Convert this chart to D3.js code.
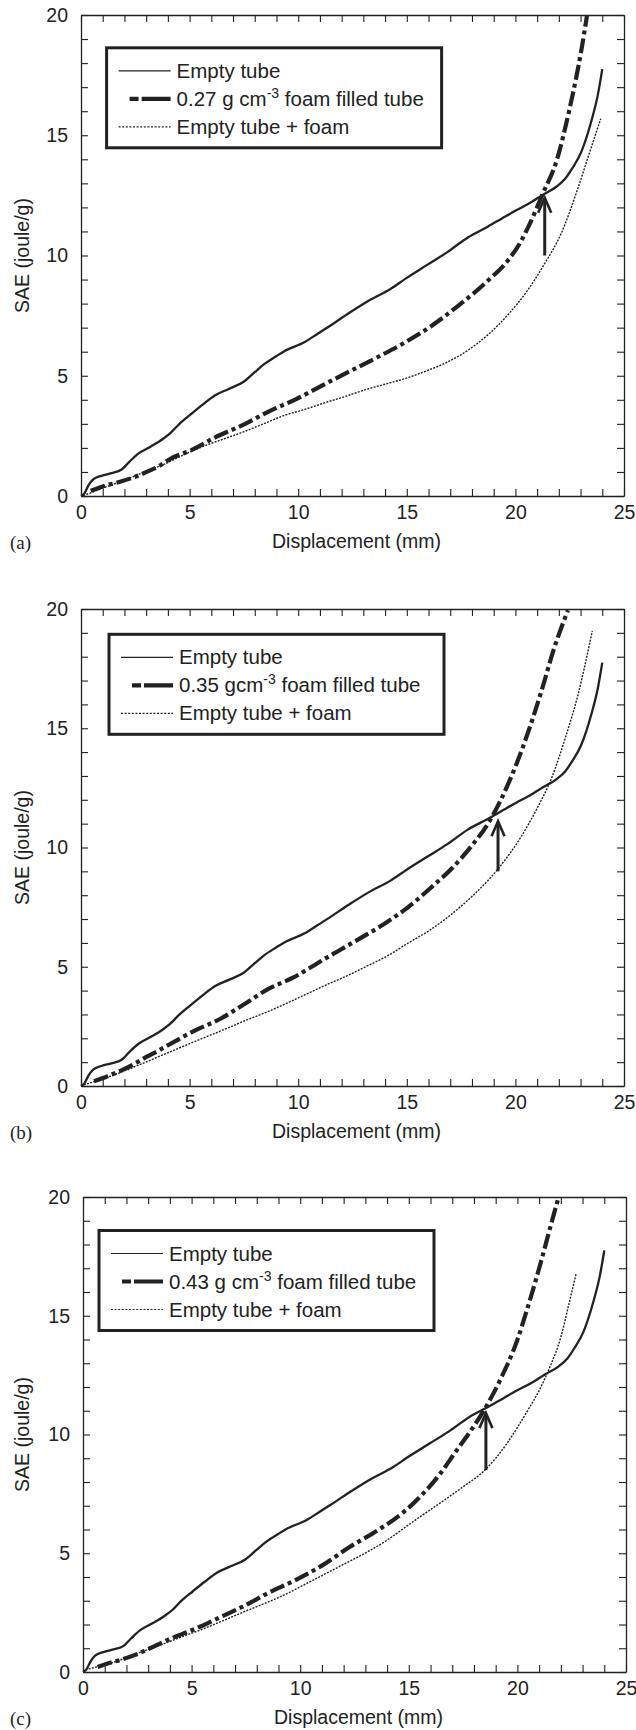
<!DOCTYPE html>
<html><head><meta charset="utf-8">
<script src="https://cdn.jsdelivr.net/npm/d3@7"></script>
<style>
html,body{margin:0;padding:0;background:#fff;}
text{font-family:"Liberation Sans",Arial,Helvetica,sans-serif;fill:#222;}
</style></head>
<body>
<svg id="chart" width="636" height="1730"></svg>
<script>
// ---------- data ----------
const xTickLabels = [0, 5, 10, 15, 20, 25];
const yTickLabels = [0, 5, 10, 15, 20];
const panelLetters = ["(a)", "(b)", "(c)"];
const xTitle = "Displacement (mm)";
const yTitle = "SAE (joule/g)";
const legendEmpty = "Empty tube";
const legendSum = "Empty tube + foam";
const legendFoamPre = ["0.27 g cm", "0.35 gcm", "0.43 g cm"];
const legendFoamSup = "-3";
const legendFoamPost = " foam filled tube";

const emptyTube = [[0,0],[0.15,0.1],[0.35,0.45],[0.56,0.69],[0.94,0.84],[1.4,0.95],[1.87,1.1],[2.2,1.4],[2.62,1.75],[3.2,2.05],[3.75,2.36],[4.1,2.6],[4.5,2.97],[5.06,3.4],[5.6,3.8],[6.18,4.19],[6.8,4.45],[7.49,4.75],[8.0,5.15],[8.43,5.48],[9.0,5.82],[9.36,6.02],[10.3,6.4],[10.9,6.75],[11.42,7.05],[12.36,7.62],[13.3,8.15],[14.23,8.6],[14.98,9.06],[15.92,9.6],[16.85,10.13],[17.79,10.74],[18.73,11.2],[19.4,11.55],[20.04,11.88],[20.7,12.2],[21.25,12.52],[21.9,12.87],[22.3,13.2],[22.6,13.6],[23.03,14.3],[23.5,15.6],[23.8,16.7],[24.0,17.75]];

const foam027 = [[0.45,0.22],[1.0,0.4],[1.87,0.61],[2.5,0.8],[3.0,0.99],[3.6,1.25],[4.12,1.55],[5.06,1.9],[6.18,2.44],[7.49,2.97],[8.61,3.5],[9.93,4.04],[11.05,4.57],[12.36,5.18],[13.67,5.78],[14.79,6.32],[16.1,7.05],[17.42,7.95],[18.73,8.95],[19.66,9.8],[20.2,10.5],[20.6,11.2],[21.25,12.55],[21.9,13.95],[22.47,16.0],[22.8,17.4],[23.03,18.5],[23.3,20.0]];
const sum027 = [[0.1,0.02],[0.5,0.15],[1.0,0.33],[1.87,0.61],[2.8,0.95],[3.75,1.29],[4.7,1.7],[5.62,2.06],[6.5,2.35],[7.49,2.67],[8.4,3.0],[9.36,3.35],[10.3,3.6],[11.24,3.88],[12.2,4.15],[13.1,4.42],[14.0,4.65],[14.98,4.9],[15.9,5.2],[16.85,5.56],[17.8,6.05],[18.73,6.7],[19.66,7.54],[20.6,8.6],[21.35,9.67],[22.1,10.9],[22.85,12.72],[23.4,14.24],[23.93,15.69]];

const foam035 = [[0.6,0.2],[1.2,0.4],[1.91,0.68],[2.5,0.95],[3.03,1.23],[3.6,1.5],[4.16,1.79],[5.28,2.34],[6.4,2.81],[7.53,3.44],[8.65,4.08],[9.78,4.55],[11.09,5.26],[12.58,6.05],[13.9,6.76],[15.02,7.47],[16.14,8.34],[17.08,9.13],[18.01,10.1],[18.76,11.03],[19.33,12.0],[20.07,13.55],[20.64,14.98],[21.2,16.56],[21.76,18.29],[22.42,19.95]];
const sum035 = [[0.13,0.05],[1.0,0.3],[1.91,0.6],[2.85,0.95],[3.78,1.31],[4.7,1.66],[5.66,2.02],[6.6,2.37],[7.53,2.73],[8.5,3.08],[9.4,3.44],[10.3,3.82],[11.27,4.23],[12.2,4.6],[13.15,5.02],[14.1,5.45],[15.02,5.97],[16.0,6.5],[16.89,7.08],[17.6,7.62],[18.2,8.12],[18.8,8.68],[19.33,9.25],[20.26,10.45],[21.01,11.66],[21.67,12.92],[22.32,14.66],[22.88,16.4],[23.54,19.08]];

const foam043 = [[0.67,0.21],[1.2,0.38],[1.8,0.53],[2.4,0.72],[2.92,0.93],[4.05,1.41],[5.17,1.82],[6.3,2.3],[7.42,2.78],[8.55,3.34],[9.67,3.82],[10.98,4.47],[12.29,5.27],[13.61,5.99],[14.73,6.71],[15.67,7.52],[16.42,8.32],[17.17,9.29],[17.92,10.25],[18.48,11.05],[19.23,12.34],[19.98,13.94],[20.54,15.55],[21.1,17.32],[21.57,18.92],[21.89,19.97]];
const sum043 = [[0.11,0.1],[1.0,0.3],[1.8,0.53],[2.7,0.85],[3.67,1.17],[4.6,1.5],[5.55,1.82],[6.5,2.18],[7.42,2.54],[8.4,2.9],[9.3,3.26],[10.2,3.68],[11.17,4.14],[12.1,4.58],[13.04,5.03],[14.0,5.55],[14.92,6.15],[15.7,6.65],[16.42,7.1],[17.5,7.8],[18.48,8.48],[19.0,9.0],[19.5,9.6],[20.0,10.3],[20.5,11.05],[21.0,11.85],[21.5,12.85],[22.0,14.1],[22.4,15.6],[22.7,16.75]];

// arrows: [x, yFrom, yTo] in data units
const arrowData = [[21.35, 10.0, 12.4], [19.2, 9.0, 11.1], [18.55, 8.5, 10.9]];

const foamSeries = [foam027, foam035, foam043];
const sumSeries = [sum027, sum035, sum043];

// ---------- layout ----------
const panels = [
  {left: 81, top: 15, h: 481, legX: 106.6, legY: 47.8},
  {left: 81, top: 609, h: 477, legX: 109, legY: 634.3},
  {left: 83, top: 1197, h: 475, legX: 99, legY: 1230.5}
];
const W = 543;
const ink = "#222";

const svg = d3.select("#chart");

panels.forEach((p, i) => {
  const H = p.h;
  const g = svg.append("g").attr("transform", `translate(${p.left},${p.top})`);
  const x = d3.scaleLinear().domain([0, 25]).range([0, W]);
  const y = d3.scaleLinear().domain([0, 20]).range([H, 0]);
  const fmtX = d => (xTickLabels.includes(d) ? d : "");
  const fmtY = d => (yTickLabels.includes(d) ? d : "");

  const styleAxis = sel => {
    sel.selectAll("path.domain").attr("stroke", ink).attr("stroke-width", 1.3);
    sel.selectAll(".tick line").attr("stroke", ink).attr("stroke-width", 1.1);
    sel.selectAll(".tick text").style("font-size", "19.5px").attr("fill", ink)
      .style("font-family", '"Liberation Sans",Arial,sans-serif');
  };

  g.append("g").attr("transform", `translate(0,${H})`)
    .call(d3.axisBottom(x).tickValues(d3.range(0, 26)).tickSizeInner(-7).tickSizeOuter(0).tickPadding(9).tickFormat(fmtX))
    .call(styleAxis);
  g.append("g")
    .call(d3.axisTop(x).tickValues(d3.range(0, 26)).tickSizeInner(-7).tickSizeOuter(0).tickFormat(""))
    .call(styleAxis);
  g.append("g")
    .call(d3.axisLeft(y).tickValues(d3.range(0, 21)).tickSizeInner(-7).tickSizeOuter(0).tickPadding(13).tickFormat(fmtY))
    .call(styleAxis);
  g.append("g").attr("transform", `translate(${W},0)`)
    .call(d3.axisRight(y).tickValues(d3.range(0, 21)).tickSizeInner(-7).tickSizeOuter(0).tickFormat(""))
    .call(styleAxis);

  const line = d3.line().x(d => x(d[0])).y(d => y(d[1])).curve(d3.curveMonotoneX);

  g.append("path").datum(sumSeries[i]).attr("d", line)
    .attr("fill", "none").attr("stroke", ink).attr("stroke-width", 1.4).attr("stroke-dasharray", "2,1.3");
  g.append("path").datum(emptyTube).attr("d", line)
    .attr("fill", "none").attr("stroke", ink).attr("stroke-width", 2.3);
  g.append("path").datum(foamSeries[i]).attr("d", line)
    .attr("fill", "none").attr("stroke", ink).attr("stroke-width", 4.2).attr("stroke-dasharray", "15,4,4,4");

  // arrow
  const a = arrowData[i];
  const ax = x(a[0]), ay0 = y(a[1]), ay1 = y(a[2]);
  g.append("line").attr("x1", ax).attr("x2", ax).attr("y1", ay0).attr("y2", ay1 + 1)
    .attr("stroke", ink).attr("stroke-width", 3);
  g.append("path").attr("d", `M${ax - 6.5},${ay1 + 15}L${ax},${ay1}L${ax + 6.5},${ay1 + 15}`)
    .attr("fill", "none").attr("stroke", ink).attr("stroke-width", 2.6);

  // axis titles
  svg.append("text").attr("x", p.left + W / 2 + 4).attr("y", p.top + H + 52)
    .attr("text-anchor", "middle").style("font-size", "19.5px").text(xTitle);
  svg.append("text").attr("transform", `translate(${29},${p.top + H / 2}) rotate(-90)`)
    .attr("text-anchor", "middle").style("font-size", "19.5px").text(yTitle);
  svg.append("text").attr("x", 10).attr("y", p.top + H + 53)
    .style("font-family", '"Liberation Serif","Times New Roman",serif').style("font-size", "19px").text(panelLetters[i]);

  // legend
  const lg = svg.append("g").attr("transform", `translate(${p.legX},${p.legY})`);
  lg.append("rect").attr("x", 0).attr("y", 0).attr("width", 335).attr("height", 100)
    .attr("fill", "#fff").attr("stroke", ink).attr("stroke-width", 3);
  const rows = [23, 51, 79];
  lg.append("line").attr("x1", 12).attr("x2", 64).attr("y1", rows[0]).attr("y2", rows[0])
    .attr("stroke", ink).attr("stroke-width", 1.2);
  lg.append("line").attr("x1", 23).attr("x2", 64).attr("y1", rows[1]).attr("y2", rows[1])
    .attr("stroke", ink).attr("stroke-width", 4.2).attr("stroke-dasharray", "9,3,40");
  lg.append("line").attr("x1", 12).attr("x2", 64).attr("y1", rows[2]).attr("y2", rows[2])
    .attr("stroke", ink).attr("stroke-width", 1.2).attr("stroke-dasharray", "2,1.6");
  const tx = 70;
  lg.append("text").attr("x", tx).attr("y", rows[0] + 7).style("font-size", "20.5px").text(legendEmpty);
  const t2 = lg.append("text").attr("x", tx).attr("y", rows[1] + 7).style("font-size", "20.5px");
  t2.append("tspan").text(legendFoamPre[i]);
  t2.append("tspan").attr("dy", -8).style("font-size", "14px").text(legendFoamSup);
  t2.append("tspan").attr("dy", 8).text(legendFoamPost);
  lg.append("text").attr("x", tx).attr("y", rows[2] + 7).style("font-size", "20.5px").text(legendSum);
});
</script>
</body></html>
